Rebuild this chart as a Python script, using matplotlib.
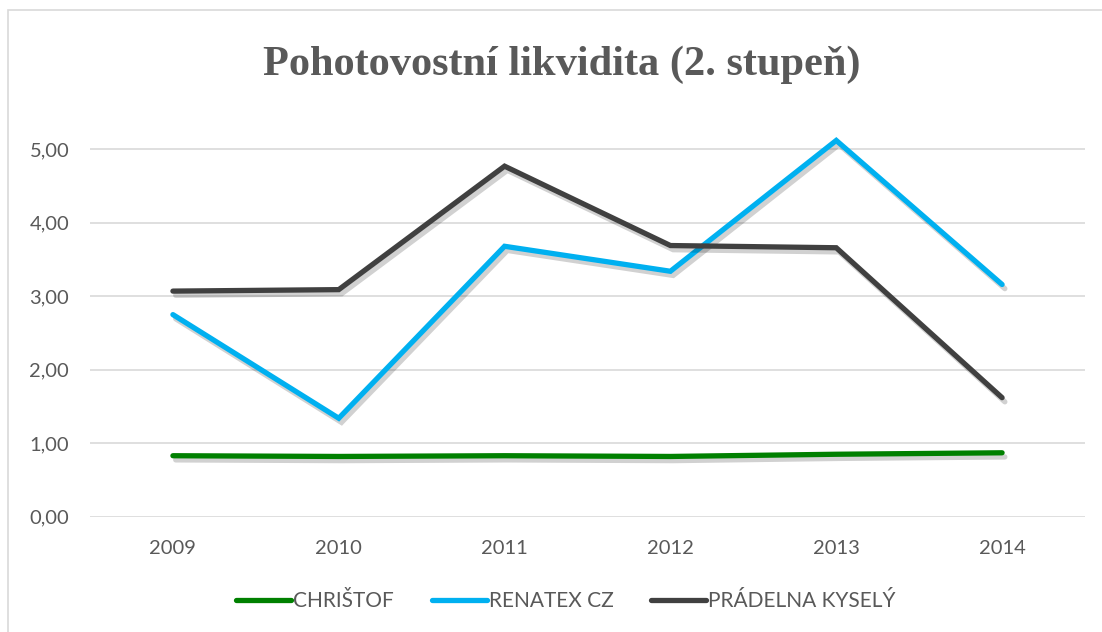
import matplotlib
matplotlib.use("Agg")
import matplotlib.pyplot as plt
import matplotlib.patheffects as pe
from matplotlib.patches import Rectangle

# data
years = ["2009", "2010", "2011", "2012", "2013", "2014"]
christof = [0.83, 0.82, 0.83, 0.82, 0.85, 0.87]
renatex = [2.75, 1.34, 3.68, 3.34, 5.12, 3.16]
pradelna = [3.07, 3.09, 4.77, 3.69, 3.66, 1.62]

series = [
    ("CHRIŠTOF", christof, "#008000"),
    ("RENATEX CZ", renatex, "#00B0F0"),
    ("PRÁDELNA KYSELÝ", pradelna, "#404040"),
]

grey = "#595959"

fig = plt.figure(figsize=(11.02, 6.32), dpi=100)
ax = fig.add_axes([90 / 1102, 0.1824, (1085 - 90) / 1102, 0.7987 - 0.1824])

# chart border (right/bottom edge runs off the picture)
fig.patches.append(Rectangle((8 / 1102, -0.05), 1.1, (632 - 10) / 632 + 0.05,
                             transform=fig.transFigure, fill=False,
                             edgecolor="#D9D9D9", linewidth=1.2))

x = range(len(years))
shadow = [pe.SimpleLineShadow(offset=(2, -3), alpha=0.18, shadow_color="black"), pe.Normal()]
for name, vals, col in series:
    ax.plot(x, vals, color=col, lw=3.8, solid_capstyle="round", solid_joinstyle="miter",
            label=name, path_effects=shadow, zorder=3)

ax.set_xlim(-0.5, len(years) - 0.5)
ax.set_ylim(0, 5.3)
ax.set_yticks([0, 1, 2, 3, 4, 5])
ax.set_yticklabels([f"{v:.2f}".replace(".", ",") for v in range(6)])
ax.set_xticks(list(x))
ax.set_xticklabels(years)
ax.grid(axis="y", color="#D9D9D9", lw=1.2, zorder=0)
ax.set_axisbelow(True)
for s in ax.spines.values():
    s.set_visible(False)
ax.tick_params(length=0, labelsize=14.5, labelcolor=grey)
ax.tick_params(axis="x", pad=17)
ax.tick_params(axis="y", pad=15)
for lab in ax.get_xticklabels() + ax.get_yticklabels():
    lab.set_family("Lato")

fig.text(562 / 1102, 0.898, "Pohotovostní likvidita (2. stupeň)", ha="center", va="center",
         family="Liberation Serif", fontweight="bold", fontsize=30.5, color=grey)

leg = fig.legend(loc="center", bbox_to_anchor=(566 / 1102, 1 - 601 / 632), ncol=3,
                 frameon=False, handlelength=2.65, handletextpad=0.1, columnspacing=1.8,
                 prop={"family": "Lato", "size": 15})
for t in leg.get_texts():
    t.set_color(grey)
for h in leg.get_lines():
    h.set_path_effects([pe.Normal()])

fig.savefig("out.png", dpi=100)
